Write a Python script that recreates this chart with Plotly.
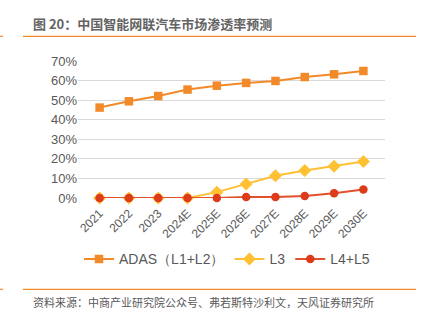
import plotly.graph_objects as go

years = ["2021", "2022", "2023", "2024E", "2025E", "2026E", "2027E", "2028E", "2029E", "2030E"]
adas = [0.462, 0.494, 0.521, 0.554, 0.574, 0.588, 0.598, 0.618, 0.632, 0.649]
l3 = [0.0, 0.0, 0.0, 0.0, 0.030, 0.072, 0.114, 0.140, 0.162, 0.186]
l45 = [0.0, 0.0, 0.0, 0.0, 0.0, 0.005, 0.005, 0.010, 0.024, 0.043]
names = ["ADAS（L1+L2）", "L3", "L4+L5"]

W, H = 426, 327
L, R, T, B = 78, 385, 60.7, 197.7

def px(x):
    return (x - L) / (R - L)

def py(y):
    return (B - y) / (B - T)

fig = go.Figure()
fig.add_trace(go.Scatter(x=years, y=adas, name=names[0], mode="lines+markers",
                         line=dict(color="#F28A2A", width=2),
                         marker=dict(symbol="square", size=8.5, color="#F28A2A"),
                         cliponaxis=False))
fig.add_trace(go.Scatter(x=years, y=l3, name=names[1], mode="lines+markers",
                         line=dict(color="#FFC133", width=2),
                         marker=dict(symbol="diamond", size=10, color="#FFC133"),
                         cliponaxis=False))
fig.add_trace(go.Scatter(x=years, y=l45, name=names[2], mode="lines+markers",
                         line=dict(color="#E2502C", width=2),
                         marker=dict(symbol="circle", size=8.5, color="#DE3B1B"),
                         cliponaxis=False))

grey = "#595959"
fig.update_layout(
    width=W, height=H,
    margin=dict(l=L, r=W - R, t=T, b=H - B, autoexpand=False),
    paper_bgcolor="white", plot_bgcolor="white",
    font=dict(family="Liberation Sans, Arial, sans-serif", size=12, color=grey),
    showlegend=True,
    legend=dict(orientation="h", x=px(79), xanchor="left", y=py(259), yanchor="middle",
                font=dict(size=14, color=grey), bgcolor="rgba(0,0,0,0)",
                itemwidth=30, tracegroupgap=0),
    xaxis=dict(type="category", showgrid=False, showline=False, zeroline=False,
               tickangle=-45, ticks="", ticklabelstandoff=5,
               tickfont=dict(size=12, color=grey)),
    yaxis=dict(range=[0, 0.7], dtick=0.1, tickformat=".0%", showgrid=True,
               gridcolor="#D9D9D9", gridwidth=1, zeroline=False, showline=False,
               ticks="", tickfont=dict(size=13, color=grey)),
)

# title
fig.add_annotation(text="<b>图 20：中国智能网联汽车市场渗透率预测</b>", xref="paper", yref="paper",
                   x=px(31), y=py(23), xanchor="left", yanchor="middle", showarrow=False,
                   font=dict(family="Noto Sans CJK SC", size=13, color="#636363"))
fig.add_annotation(text="资料来源：中商产业研究院公众号、弗若斯特沙利文，天风证券研究所", xref="paper", yref="paper",
                   x=px(31), y=py(302), xanchor="left", yanchor="middle", showarrow=False,
                   font=dict(family="Noto Sans CJK SC", size=11, color=grey))
for yy in (36, 289):
    fig.add_shape(type="line", xref="paper", yref="paper", x0=px(23), x1=px(416),
                  y0=py(yy), y1=py(yy), line=dict(color="#F28A2A", width=1.2))
    fig.add_shape(type="line", xref="paper", yref="paper", x0=px(0), x1=px(3),
                  y0=py(yy), y1=py(yy), line=dict(color="#F28A2A", width=1.2))

fig.write_html("out.html")
